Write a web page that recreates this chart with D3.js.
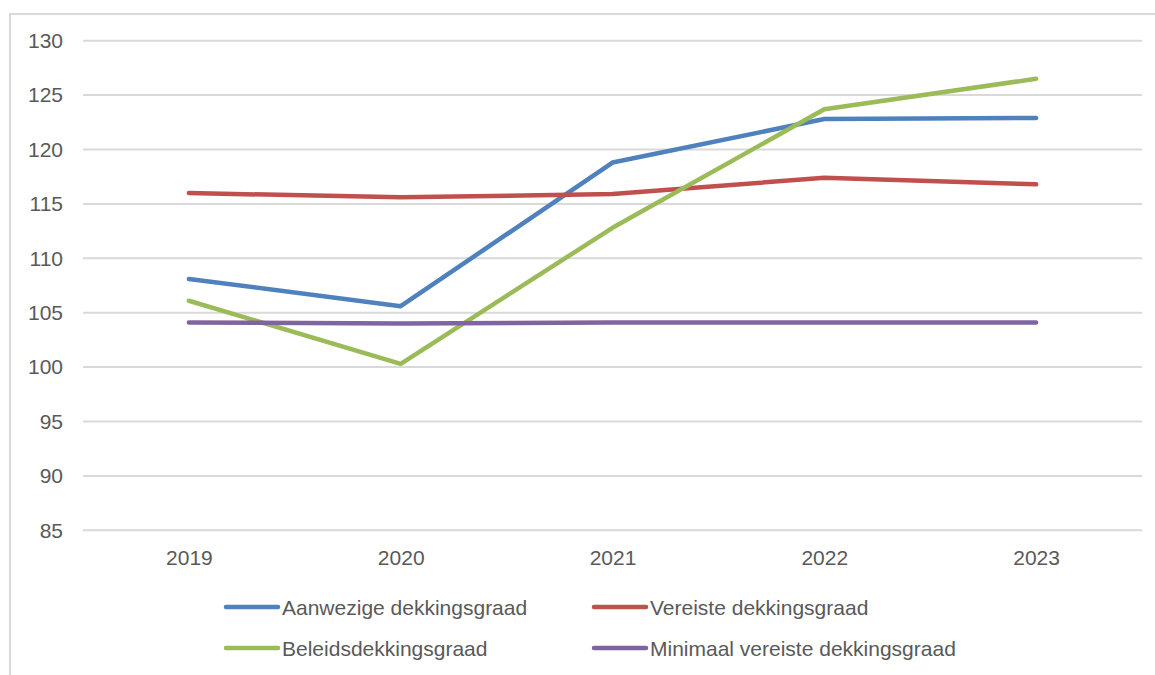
<!DOCTYPE html>
<html>
<head>
<meta charset="utf-8">
<script src="https://cdn.jsdelivr.net/npm/d3@7"></script>
<style>
  body { margin: 0; background: #fff; }
  text { font-family: "Liberation Sans", Arial, sans-serif; fill: #595959; }
</style>
</head>
<body>
<svg id="canvas" width="1155" height="675"></svg>
<script>
let years = ["2019", "2020", "2021", "2022", "2023"];
let aanwezige = [108.1, 105.6, 118.8, 122.8, 122.9];
let vereiste = [116.0, 115.6, 115.9, 117.4, 116.8];
let beleids = [106.1, 100.3, 112.8, 123.7, 126.5];
let minimaal = [104.1, 104.0, 104.1, 104.1, 104.1];
let yTicks = [85, 90, 95, 100, 105, 110, 115, 120, 125, 130];

let seriesNames = ["Aanwezige dekkingsgraad", "Vereiste dekkingsgraad", "Beleidsdekkingsgraad", "Minimaal vereiste dekkingsgraad"];
let seriesColors = ["#4f81bd", "#c0504d", "#9bbb59", "#8064a2"];
let seriesValues = [aanwezige, vereiste, beleids, minimaal];

let canvas = d3.select("#canvas");

// outer chart frame (top + left edge visible)
canvas.append("path")
  .attr("d", "M10,675 L10,14 L1155,14")
  .attr("fill", "none")
  .attr("stroke", "#d9d9d9")
  .attr("stroke-width", 2);

let plotLeft = 83, plotRight = 1142, plotTop = 40.7, plotBottom = 530.3;

let x = d3.scalePoint().domain(years).range([plotLeft, plotRight]).padding(0.5);
let y = d3.scaleLinear().domain([85, 130]).range([plotBottom, plotTop]);

// gridlines
canvas.append("g")
  .selectAll("line")
  .data(yTicks)
  .enter()
  .append("line")
  .attr("x1", plotLeft)
  .attr("x2", plotRight)
  .attr("y1", (d) => y(d))
  .attr("y2", (d) => y(d))
  .attr("stroke", "#d9d9d9")
  .attr("stroke-width", 2);

// y axis labels
let yAxis = d3.axisLeft(y).tickValues(yTicks).tickSize(0).tickPadding(0);
let yg = canvas.append("g")
  .attr("transform", "translate(63,0)")
  .call(yAxis);
yg.select(".domain").remove();
yg.selectAll("text")
  .style("font-size", "21px")
  .attr("fill", "#595959")
  .style("font-family", "Liberation Sans, Arial, sans-serif");

// x axis labels
let xAxis = d3.axisBottom(x).tickSize(0).tickPadding(0);
let xg = canvas.append("g")
  .attr("transform", "translate(0,550)")
  .call(xAxis);
xg.select(".domain").remove();
xg.selectAll("text")
  .style("font-size", "21px")
  .attr("fill", "#595959")
  .style("font-family", "Liberation Sans, Arial, sans-serif");

let line = d3.line()
  .x((d, i) => x(years[i]))
  .y((d) => y(d));

// draw order: blue, red, green, purple
canvas.append("g")
  .selectAll("path")
  .data(seriesValues)
  .enter()
  .append("path")
  .attr("d", (d) => line(d))
  .attr("fill", "none")
  .attr("stroke", (d, i) => seriesColors[i])
  .attr("stroke-width", 4.5)
  .attr("stroke-linecap", "round")
  .attr("stroke-linejoin", "round");

// legend
let legendPos = [
  { lx: 226, ly: 607 },
  { lx: 594, ly: 607 },
  { lx: 226, ly: 648 },
  { lx: 594, ly: 648 }
];

let legend = canvas.append("g")
  .selectAll("g")
  .data(seriesNames)
  .enter()
  .append("g")
  .attr("transform", (d, i) => "translate(" + legendPos[i].lx + "," + legendPos[i].ly + ")");

legend.append("line")
  .attr("x1", 0)
  .attr("x2", 52)
  .attr("y1", 0)
  .attr("y2", 0)
  .attr("stroke", (d, i) => seriesColors[i])
  .attr("stroke-width", 4.5)
  .attr("stroke-linecap", "round");

legend.append("text")
  .attr("x", 56)
  .attr("y", 7.5)
  .style("font-size", "21px")
  .text((d) => d);
</script>
</body>
</html>
